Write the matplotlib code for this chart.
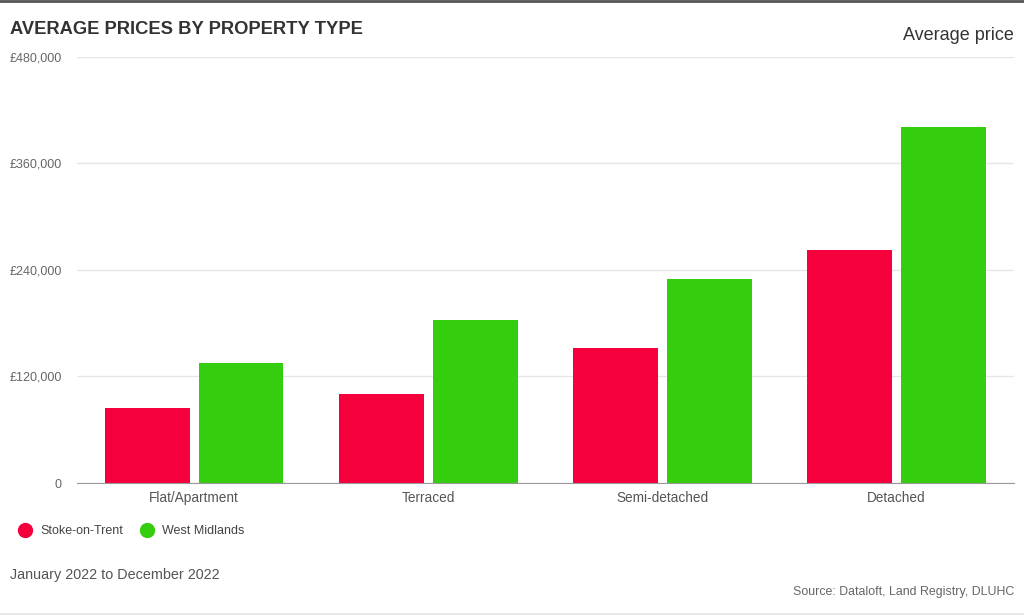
import matplotlib.pyplot as plt
from matplotlib.lines import Line2D
import numpy as np

plt.rcParams["font.family"] = ["Liberation Sans", "DejaVu Sans"]

categories = ["Flat/Apartment", "Terraced", "Semi-detached", "Detached"]
stoke = [85000, 100500, 152000, 262500]
west_midlands = [135000, 184000, 230000, 401000]
yticks = [0, 120000, 240000, 360000, 480000]
ytick_labels = ["0", "£120,000", "£240,000", "£360,000", "£480,000"]

red = "#F5003C"
green = "#34CE0E"

fig = plt.figure(figsize=(10.24, 6.16), dpi=100)
ax = fig.add_axes([0.0752, 0.2159, 0.9148, 0.6916])

x = np.arange(len(categories))
ax.bar(x - 0.2, stoke, width=0.362, color=red, zorder=3)
ax.bar(x + 0.2, west_midlands, width=0.362, color=green, zorder=3)

ax.set_xlim(-0.5, 3.5)
ax.set_ylim(0, 480000)
ax.set_yticks(yticks)
ax.set_yticklabels(ytick_labels)
ax.set_xticks(x)
ax.set_xticklabels(categories)
ax.tick_params(axis="y", length=0, pad=11, labelsize=9, labelcolor="#666666")
ax.tick_params(axis="x", length=0, pad=6, labelsize=9.8, labelcolor="#555555")
ax.grid(axis="y", color="#e6e6e6", linewidth=1, zorder=0)
for s in ["top", "right", "left"]:
    ax.spines[s].set_visible(False)
ax.spines["bottom"].set_color("#999999")
ax.spines["bottom"].set_zorder(4)

fig.text(10 / 1024, 1 - 29.5 / 616, "AVERAGE PRICES BY PROPERTY TYPE", fontsize=13.2,
         fontweight="bold", color="#333333", va="center", ha="left")
fig.text(1014 / 1024, 1 - 35 / 616, "Average price", fontsize=13,
         color="#333333", va="center", ha="right")

handles = [Line2D([], [], marker="o", linestyle="", markersize=10, color=red),
           Line2D([], [], marker="o", linestyle="", markersize=10, color=green)]
fig.legend(handles, ["Stoke-on-Trent", "West Midlands"], loc="center left",
           bbox_to_anchor=(19 / 1024, 1 - 531 / 616), ncol=2, frameon=False,
           fontsize=9, handlelength=1.0, handletextpad=0.7, columnspacing=1.4,
           borderpad=0, borderaxespad=0, labelcolor="#444444")

fig.text(10 / 1024, 1 - 575 / 616, "January 2022 to December 2022", fontsize=10.4,
         color="#555555", va="center", ha="left")
fig.text(1014 / 1024, 1 - 592 / 616, "Source: Dataloft, Land Registry, DLUHC", fontsize=8.9,
         color="#666666", va="center", ha="right")

fig.add_artist(Line2D([0, 1], [0.998, 0.998], color="#555555", linewidth=2))
fig.add_artist(Line2D([0, 1], [0.003, 0.003], color="#e8e8e8", linewidth=1.5))

fig.savefig("out.png", dpi=100)
